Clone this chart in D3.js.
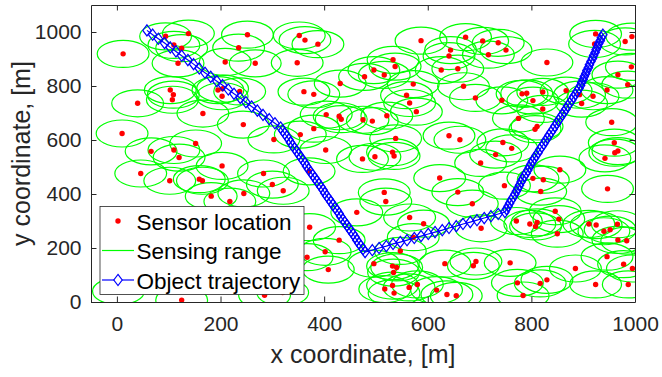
<!DOCTYPE html>
<html>
<head>
<meta charset="utf-8">
<script src="https://cdn.jsdelivr.net/npm/d3@7"></script>
<style>
body { margin: 0; background: #fff; }
svg { display: block; font-family: "Liberation Sans", Arial, sans-serif; }
</style>
</head>
<body>
<svg id="chart" width="662" height="377"></svg>
<script>
// sensor positions [m]
var sensorX = [12,138,94,110,125,118,252,235,209,267,348,352,363,388,431,478,496,587,533,537,
	516,644,641,658,626,673,706,736,751,717,830,924,922,981,994,993,967,986,946,919,
	897,867,893,822,782,791,803,822,743,692,669,775,811,807,955,960,967,961,745,762,
	731,662,641,538,572,559,565,578,521,493,475,404,429,433,380,354,361,380,303,244,
	166,103,109,107,40,195,204,203,237,10,152,66,110,120,203,46,102,159,165,283,
	300,403,371,474,498,535,532,702,855,748,803,823,818,947,942,623,658,516,519,321,
	245,182,218,686,463,565,592,572,547,429,372,402,367,408,496,532,540,534,517,532,
	535,564,580,617,637,655,633,688,693,759,703,771,797,811,808,846,853,850,773,784,
	817,830,885,924,946,978,995,987,911,925,966,940,952,967,984,125,3,285,320];
var sensorY = [919,994,984,952,940,884,990,942,889,884,886,987,970,955,809,834,859,968,897,872,
	841,933,911,864,859,981,967,960,933,916,887,993,956,965,983,871,842,805,785,762,
	735,783,768,778,771,773,746,715,747,756,799,680,650,640,666,590,559,553,591,569,
	546,601,616,606,807,766,737,705,690,670,675,694,688,677,642,620,779,769,602,657,
	698,785,768,749,736,785,790,762,780,624,587,558,563,535,504,476,449,455,449,476,
	435,563,484,530,538,541,555,515,490,431,458,453,409,419,532,459,407,406,372,412,
	402,392,372,364,332,313,290,240,189,229,277,186,166,120,142,133,128,109,48,61,
	33,54,65,44,28,23,142,134,150,145,273,300,289,295,280,336,307,253,71,24,
	69,82,124,65,168,140,124,65,289,285,288,262,268,230,227,7,40,25,35];
var sensingRange = 50;

// object trajectory samples [m]
var trajX = [58,69,80,92,103,114,125,137,148,159,170,181,193,204,215,226,238,249,260,271,282,294,305,316,
	320,324,328,332,335,339,343,347,351,355,359,363,366,370,374,378,382,386,390,394,398,401,405,409,413,417,421,425,429,432,436,440,444,448,452,456,460,463,467,471,475,479,
	493,506,520,533,547,560,574,587,601,614,628,641,655,668,682,695,709,722,736,749,
	752,755,758,761,765,768,771,774,777,780,783,786,790,793,796,799,802,
	806,809,813,816,820,824,827,831,834,838,842,845,849,852,856,860,863,867,870,874,878,881,885,888,892,
	895,897,900,902,905,907,910,912,915,918,920,923,925,928,930,933,935,938];
var trajY = [1006,990,975,959,943,928,912,896,881,865,849,834,818,803,787,771,756,740,724,709,693,677,662,646,
	635,624,613,602,591,580,569,558,547,536,525,514,503,492,481,470,459,448,437,426,415,404,393,382,371,360,349,339,328,317,306,295,284,273,262,251,240,229,218,207,196,185,
	192,200,207,215,222,229,237,244,252,259,266,274,281,289,296,303,311,318,326,333,
	344,355,366,377,388,399,410,421,432,444,455,466,477,488,499,510,521,
	532,543,553,564,575,586,597,607,618,629,640,651,661,672,683,694,705,715,726,737,748,759,769,780,791,
	802,813,824,835,846,857,868,879,891,902,913,924,935,946,957,968,979,990];

var xTicks = [0, 200, 400, 600, 800, 1000];
var yTicks = [0, 200, 400, 600, 800, 1000];
var legendLabels = ['Sensor location', 'Sensing range', 'Object trajectory'];

var axisColor = '#262626';
var x, y, svg, plot, sensors, traj, legend;

x = d3.scaleLinear().domain([-50, 1000]).range([91, 635]);
y = d3.scaleLinear().domain([0, 1100]).range([302, 5]);

svg = d3.select('#chart');

svg.append('clipPath').attr('id', 'plotClip')
	.append('rect')
	.attr('x', x(-50)).attr('y', y(1100))
	.attr('width', x(1000) - x(-50) + 1)
	.attr('height', y(0) - y(1100) + 1);

sensors = d3.zip(sensorX, sensorY);
traj = d3.zip(trajX, trajY);

plot = svg.append('g').attr('clip-path', 'url(#plotClip)');

// sensing range circles (ellipses on screen, axes are not equal)
plot.selectAll('ellipse').data(sensors).enter().append('ellipse')
	.attr('cx', function(d){ return x(d[0]); })
	.attr('cy', function(d){ return y(d[1]); })
	.attr('rx', x(sensingRange) - x(0))
	.attr('ry', y(0) - y(sensingRange))
	.attr('fill', 'none')
	.attr('stroke', '#00ff00')
	.attr('stroke-width', 1.2);

plot.selectAll('circle.sensor').data(sensors).enter().append('circle')
	.attr('class', 'sensor')
	.attr('cx', function(d){ return x(d[0]); })
	.attr('cy', function(d){ return y(d[1]); })
	.attr('r', 2.7)
	.attr('fill', '#ff0000');

function diamond(cx, cy) {
	var hw = 4.2, hh = 5.6;
	return 'M' + cx + ',' + (cy - hh) + 'L' + (cx + hw) + ',' + cy +
		'L' + cx + ',' + (cy + hh) + 'L' + (cx - hw) + ',' + cy + 'Z';
}

plot.append('path').datum(traj)
	.attr('fill', 'none')
	.attr('stroke', '#0000ff')
	.attr('stroke-width', 1.2)
	.attr('d', d3.line()
		.x(function(d){ return x(d[0]); })
		.y(function(d){ return y(d[1]); }));

plot.selectAll('path.marker').data(traj).enter().append('path')
	.attr('class', 'marker')
	.attr('fill', 'none')
	.attr('stroke', '#0000ff')
	.attr('stroke-width', 1.2)
	.attr('d', function(d){ return diamond(x(d[0]), y(d[1])); });

// axes, ticks pointing inwards, box on
function styleAxis(g, labels) {
	g.attr('color', axisColor)
		.attr('font-size', 21)
		.attr('font-family', '"Liberation Sans", Arial, sans-serif');
	if (!labels) {
		g.selectAll('.tick text').remove();
	}
}

svg.append('g')
	.attr('transform', 'translate(0,' + y(0) + ')')
	.call(d3.axisBottom(x).tickValues(xTicks).tickFormat(d3.format('d'))
		.tickSizeInner(-5.5).tickSizeOuter(0).tickPadding(14.5))
	.call(styleAxis, true);

svg.append('g')
	.attr('transform', 'translate(0,' + y(1100) + ')')
	.call(d3.axisTop(x).tickValues(xTicks).tickSizeInner(-5.5).tickSizeOuter(0))
	.call(styleAxis, false);

svg.append('g')
	.attr('transform', 'translate(' + x(-50) + ',0)')
	.call(d3.axisLeft(y).tickValues(yTicks).tickFormat(d3.format('d'))
		.tickSizeInner(-5.5).tickSizeOuter(0).tickPadding(9.5))
	.call(styleAxis, true);

svg.append('g')
	.attr('transform', 'translate(' + x(1000) + ',0)')
	.call(d3.axisRight(y).tickValues(yTicks).tickSizeInner(-5.5).tickSizeOuter(0))
	.call(styleAxis, false);

svg.append('text')
	.attr('x', (x(-50) + x(1000)) / 2)
	.attr('y', 363)
	.attr('text-anchor', 'middle')
	.attr('fill', axisColor)
	.attr('font-size', 25)
	.text('x coordinate, [m]');

svg.append('text')
	.attr('transform', 'translate(29.5,' + ((y(0) + y(1100)) / 2) + ') rotate(-90)')
	.attr('text-anchor', 'middle')
	.attr('fill', axisColor)
	.attr('font-size', 25)
	.text('y coordinate, [m]');

// legend
legend = svg.append('g').attr('transform', 'translate(100,206.5)');

legend.append('rect')
	.attr('width', 204).attr('height', 88)
	.attr('fill', '#fff')
	.attr('stroke', axisColor)
	.attr('stroke-width', 0.8);

legend.selectAll('text').data(legendLabels).enter().append('text')
	.attr('x', 36.5)
	.attr('y', function(d, i){ return 23 + i * 29.5; })
	.attr('font-size', 22.5)
	.attr('fill', '#000')
	.text(function(d){ return d; });

legend.append('circle')
	.attr('cx', 18).attr('cy', 14.5).attr('r', 2.7)
	.attr('fill', '#ff0000');

legend.append('line')
	.attr('x1', 2).attr('x2', 34).attr('y1', 44).attr('y2', 44)
	.attr('stroke', '#00ff00').attr('stroke-width', 1.2);

legend.append('line')
	.attr('x1', 2).attr('x2', 34).attr('y1', 73.5).attr('y2', 73.5)
	.attr('stroke', '#0000ff').attr('stroke-width', 1.2);

legend.append('path')
	.attr('d', diamond(18, 73.5))
	.attr('fill', '#fff')
	.attr('stroke', '#0000ff')
	.attr('stroke-width', 1.2);
</script>
</body>
</html>
